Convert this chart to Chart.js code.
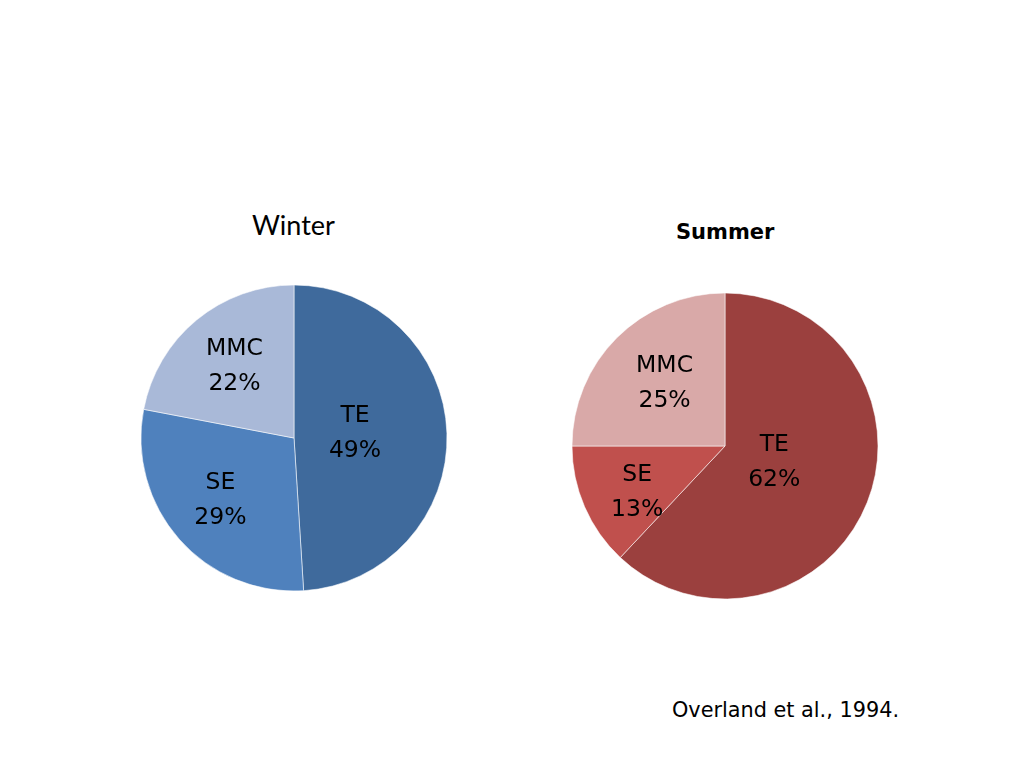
<!DOCTYPE html>
<html>
<head>
<meta charset="utf-8">
<script src="https://cdn.jsdelivr.net/npm/chart.js@4"></script>
<style>
  html, body { margin: 0; padding: 0; background: #ffffff; }
  body { width: 1024px; height: 768px; position: relative; overflow: hidden; }
  .title { position: absolute; color: #000; white-space: nowrap; }
  #tWinter { left: 252px; top: 208px; font-family: Lato, "Open Sans", sans-serif; font-size: 27px; }
  #tSummer { left: 676px; top: 220px; font-family: "DejaVu Sans", sans-serif; font-weight: bold; font-size: 21px; }
  #cite { left: 672px; top: 698px; font-family: "DejaVu Sans", sans-serif; font-size: 20.8px; }
  canvas { position: absolute; }
  #cWinter { left: 124px; top: 268px; }
  #cSummer { left: 555px; top: 276px; }
</style>
</head>
<body>
<div class="title" id="tWinter">Winter</div>
<div class="title" id="tSummer">Summer</div>
<div class="title" id="cite">Overland et al., 1994.</div>
<canvas id="cWinter" width="340" height="340"></canvas>
<canvas id="cSummer" width="340" height="340"></canvas>
<script>
const categories = ["TE", "SE", "MMC"];
const winterValues = [49, 29, 22];
const summerValues = [62, 13, 25];
const winterColors = ["#3F6A9C", "#4F81BD", "#A9B9D8"];
const summerColors = ["#9B403E", "#C0504D", "#D9A9A8"];

const sliceLabels = {
  id: "sliceLabels",
  afterDatasetsDraw(chart, args, opts) {
    const ctx = chart.ctx;
    const meta = chart.getDatasetMeta(0);
    const data = chart.data.datasets[0].data;
    ctx.save();
    ctx.fillStyle = "#000";
    ctx.font = opts.font;
    ctx.textAlign = "center";
    ctx.textBaseline = "middle";
    meta.data.forEach((arc, i) => {
      const p = arc.getProps(["x", "y", "startAngle", "endAngle", "outerRadius"], true);
      const mid = (p.startAngle + p.endAngle) / 2 + opts.angleShift[i];
      const f = opts.factors[i];
      const cx = p.x + Math.cos(mid) * p.outerRadius * f;
      const cy = p.y + Math.sin(mid) * p.outerRadius * f;
      ctx.fillText(chart.data.labels[i], cx, cy - opts.lineGap / 2);
      ctx.fillText(data[i] + "%", cx, cy + opts.lineGap / 2);
    });
    ctx.restore();
  }
};

function makePie(id, values, colors, factors, angleShift) {
  return new Chart(document.getElementById(id), {
    type: "pie",
    data: {
      labels: categories,
      datasets: [{
        data: values,
        backgroundColor: colors,
        borderColor: "rgba(255,255,255,0.55)",
        borderWidth: 1
      }]
    },
    options: {
      responsive: false,
      animation: false,
      radius: 153,
      layout: { padding: 0 },
      plugins: {
        legend: { display: false },
        tooltip: { enabled: false },
        title: { display: false },
        sliceLabels: { font: "23.5px 'DejaVu Sans', sans-serif", lineGap: 35, factors: factors, angleShift: angleShift }
      }
    },
    plugins: [sliceLabels]
  });
}

makePie("cWinter", winterValues, winterColors, [0.40, 0.63, 0.61], [-0.05, 0.02, 0]);
makePie("cSummer", summerValues, summerColors, [0.34, 0.65, 0.57], [-0.05, -0.08, 0.02]);
</script>
</body>
</html>
